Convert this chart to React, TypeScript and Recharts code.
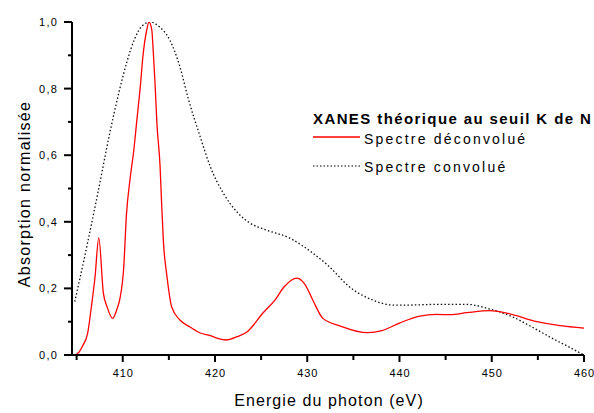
import React from 'react';
import { LineChart, Line, XAxis, YAxis, Legend } from 'recharts';

const deconvEnergy = [404.9, 405.3, 405.6, 406.2, 406.6, 407.0, 407.4, 407.9, 408.3, 408.9, 409.4, 409.7, 410.1, 410.4, 410.8, 411.2, 411.5, 411.9, 412.2, 412.6, 412.85, 413.15, 413.3, 413.5, 413.7, 414.05, 414.2, 414.4, 414.8, 415.3, 416.2, 417.3, 418.4, 419.5, 420.3, 421.2, 422.4, 423.5, 425.2, 426.5, 427.5, 428.9, 429.8, 430.6, 431.7, 433.6, 436.5, 438.1, 440.0, 442.2, 444.0, 445.5, 447.3, 449.8, 451.6, 454.9, 457.4, 460.0];
const deconvAbs = [0.0, 0.01, 0.025, 0.066, 0.145, 0.235, 0.352, 0.186, 0.145, 0.11, 0.14, 0.17, 0.26, 0.42, 0.53, 0.615, 0.697, 0.805, 0.9, 0.976, 1.0, 0.976, 0.916, 0.817, 0.697, 0.565, 0.465, 0.345, 0.235, 0.145, 0.105, 0.084, 0.066, 0.058, 0.05, 0.045, 0.055, 0.07, 0.126, 0.165, 0.205, 0.231, 0.21, 0.165, 0.11, 0.087, 0.067, 0.073, 0.096, 0.117, 0.122, 0.121, 0.127, 0.133, 0.126, 0.1, 0.088, 0.081];

const convEnergy = [404.8, 405.4, 406.25, 407.3, 408.6, 409.6, 410.5, 411.3, 412.1, 413.0, 414.0, 415.1, 416.2, 417.1, 418.4, 419.5, 420.9, 422.5, 423.8, 425.6, 428.1, 430.6, 432.4, 434.6, 437.1, 439.3, 441.0, 444.0, 447.3, 449.8, 452.3, 454.3, 456.3, 458.3, 460.0];
const convAbs = [0.16, 0.235, 0.345, 0.486, 0.667, 0.79, 0.885, 0.95, 0.988, 1.0, 0.985, 0.946, 0.865, 0.77, 0.655, 0.565, 0.486, 0.426, 0.396, 0.375, 0.351, 0.306, 0.265, 0.204, 0.165, 0.15, 0.15, 0.152, 0.152, 0.138, 0.114, 0.085, 0.054, 0.025, 0.0];

const xTicks = [405, 410, 415, 420, 425, 430, 435, 440, 445, 450, 455, 460];
const yTicks = [0, 0.1, 0.2, 0.3, 0.4, 0.5, 0.6, 0.7, 0.8, 0.9, 1.0];

const legendTitle = 'XANES théorique au seuil K de N';
const seriesNames = ['Spectre déconvolué', 'Spectre convolué'];
const xLabel = 'Energie du photon (eV)';
const yLabel = 'Absorption normalisée';

const deconvData = deconvEnergy.map((x, i) => ({ x, y: deconvAbs[i] }));
const convData = convEnergy.map((x, i) => ({ x, y: convAbs[i] }));

const FONT = '"Liberation Sans", Arial, sans-serif';

const XTick = (props: any) => {
  const { x, y, payload } = props;
  const major = Math.round(payload.value) % 10 === 0;
  return (
    <g>
      <line x1={x} x2={x} y1={y} y2={y + (major ? 7 : 5)} stroke="#000" strokeWidth={2} />
      {major && (
        <text x={x + 0.5} y={y + 22} textAnchor="middle" fontFamily={FONT} fontSize={11} fill="#000" style={{ letterSpacing: 0.8 }}>
          {payload.value}
        </text>
      )}
    </g>
  );
};

const YTick = (props: any) => {
  const { x, y, payload } = props;
  const major = Math.round(payload.value * 10) % 2 === 0;
  return (
    <g>
      <line x1={x} x2={x - (major ? 8 : 4)} y1={y} y2={y} stroke="#000" strokeWidth={2} />
      {major && (
        <text x={x - 14} y={y + 4} textAnchor="end" fontFamily={FONT} fontSize={11} fill="#000" style={{ letterSpacing: 1.2 }}>
          {payload.value.toFixed(1).replace('.', ',')}
        </text>
      )}
    </g>
  );
};

const YLabel = (props: any) => {
  const vb = props.viewBox || { x: 0, y: 22, width: 72, height: 333 };
  const cx = vb.x + 30;
  const cy = vb.y + vb.height / 2 + 5.5;
  return (
    <text x={cx} y={cy} transform={`rotate(-90 ${cx} ${cy})`} textAnchor="middle" fontFamily={FONT} fontSize={16} fill="#000" style={{ letterSpacing: 1.3 }}>
      {yLabel}
    </text>
  );
};

const XLabel = (props: any) => {
  const vb = props.viewBox || { x: 72, y: 355, width: 512, height: 58 };
  return (
    <text x={vb.x + vb.width / 2 + 1} y={vb.y + 51} textAnchor="middle" fontFamily={FONT} fontSize={16} fill="#000" style={{ letterSpacing: 1.1 }}>
      {xLabel}
    </text>
  );
};

const LegendContent = () => (
  <svg width={281} height={80} style={{ display: 'block' }}>
    <text x={0} y={24} fontFamily={FONT} fontSize={15} fontWeight="bold" fill="#000" style={{ letterSpacing: 1.4 }}>
      {legendTitle}
    </text>
    <line x1={0} x2={47} y1={37} y2={37} stroke="#ff0000" strokeWidth={1.5} />
    <text x={51} y={43.5} fontFamily={FONT} fontSize={14} fill="#000" style={{ letterSpacing: 2.2 }}>
      {seriesNames[0]}
    </text>
    <line x1={0} x2={47} y1={66} y2={66} stroke="#000" strokeWidth={1.2} strokeDasharray="1.5 2" />
    <text x={51} y={71.5} fontFamily={FONT} fontSize={14} fill="#000" style={{ letterSpacing: 2.2 }}>
      {seriesNames[1]}
    </text>
  </svg>
);

export default function App() {
  return (
    <div style={{ position: 'absolute', left: 0, top: 0, width: 594, height: 413, background: '#fff' }}>
      <LineChart width={594} height={413} margin={{ top: 22, right: 10, bottom: 0, left: 0 }}>
        <XAxis
          dataKey="x"
          type="number"
          domain={[404.5, 460]}
          ticks={xTicks}
          interval={0}
          allowDataOverflow
          height={58}
          tickSize={0}
          tickMargin={0}
          tickLine={false}
          axisLine={{ stroke: '#000', strokeWidth: 2 }}
          tick={<XTick />}
          label={<XLabel />}
        />
        <YAxis
          type="number"
          domain={[0, 1]}
          ticks={yTicks}
          interval={0}
          allowDataOverflow
          width={72}
          tickSize={0}
          tickMargin={0}
          tickLine={false}
          axisLine={{ stroke: '#000', strokeWidth: 2 }}
          tick={<YTick />}
          label={<YLabel />}
        />
        <Legend
          layout="vertical"
          align="center"
          verticalAlign="middle"
          wrapperStyle={{ left: 313, top: 100, width: 281 }}
          content={<LegendContent />}
        />
        <Line
          data={convData}
          dataKey="y"
          type="monotone"
          stroke="#111"
          strokeWidth={1.3}
          strokeDasharray="1.5 2.2"
          dot={false}
          activeDot={false}
          isAnimationActive={false}
          name={seriesNames[1]}
        />
        <Line
          data={deconvData}
          dataKey="y"
          type="monotone"
          stroke="#ff0000"
          strokeWidth={1.3}
          dot={false}
          activeDot={false}
          isAnimationActive={false}
          name={seriesNames[0]}
        />
      </LineChart>
    </div>
  );
}
